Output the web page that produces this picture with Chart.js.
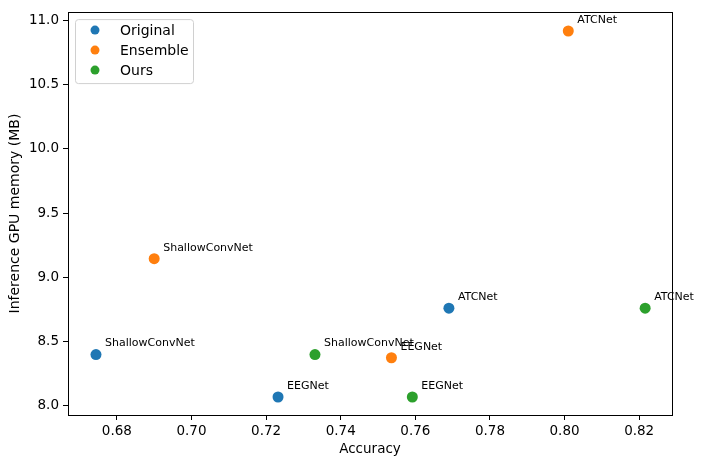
<!DOCTYPE html>
<html>
<head>
<meta charset="UTF-8">
<title>Accuracy vs GPU memory</title>
<script src="https://cdn.jsdelivr.net/npm/chart.js"></script>
<style>
  html, body { margin: 0; padding: 0; background: #fff; }
  #wrap { width: 701px; height: 467px; }
</style>
</head>
<body>
<div id="wrap"><canvas id="chart"></canvas></div>
<script>
// data
const models = ['ShallowConvNet', 'EEGNet', 'ATCNet'];
const originalAcc = [0.6744, 0.7232, 0.7690];
const originalMem = [8.40, 8.07, 8.76];
const ensembleAcc = [0.6900, 0.7536, 0.8010];
const ensembleMem = [9.145, 8.375, 10.915];
const oursAcc = [0.7331, 0.7592, 0.8216];
const oursMem = [8.40, 8.07, 8.76];
const xTicks = [0.68, 0.70, 0.72, 0.74, 0.76, 0.78, 0.80, 0.82];
const yTicks = [8.0, 8.5, 9.0, 9.5, 10.0, 10.5, 11.0];

const FONT = "'DejaVu Sans', sans-serif";

function pts(xs, ys) {
    return xs.map((x, i) => ({ x: x, y: ys[i], name: models[i] }));
}

// point labels next to every marker
const pointLabels = {
    id: 'pointLabels',
    afterDatasetsDraw(chart) {
        const ctx = chart.ctx;
        ctx.save();
        ctx.font = '11px ' + FONT;
        ctx.fillStyle = '#000';
        ctx.textBaseline = 'middle';
        chart.data.datasets.forEach((ds, di) => {
            chart.getDatasetMeta(di).data.forEach((el, i) => {
                ctx.fillText(ds.data[i].name, el.x + 9, el.y - 11);
            });
        });
        ctx.restore();
    }
};

// box around the plot + legend in upper left, like matplotlib
const frameAndLegend = {
    id: 'frameAndLegend',
    afterDraw(chart) {
        const ctx = chart.ctx;
        const a = chart.chartArea;
        ctx.save();
        ctx.strokeStyle = '#000';
        ctx.lineWidth = 1;
        ctx.strokeRect(Math.round(a.left) + 0.5, Math.round(a.top) + 0.5,
            Math.round(a.right - a.left), Math.round(a.bottom - a.top));

        // legend
        const bx = a.left + 7, by = a.top + 7, bw = 118, bh = 64;
        ctx.beginPath();
        ctx.roundRect(bx + 0.5, by + 0.5, bw, bh, 3);
        ctx.fillStyle = 'rgba(255,255,255,0.8)';
        ctx.fill();
        ctx.strokeStyle = '#d0d0d0';
        ctx.stroke();
        ctx.font = '14px ' + FONT;
        ctx.textBaseline = 'middle';
        chart.data.datasets.forEach((ds, i) => {
            const y = by + 11 + i * 20;
            ctx.beginPath();
            ctx.arc(bx + 20, y, 4.5, 0, Math.PI * 2);
            ctx.fillStyle = ds.backgroundColor;
            ctx.fill();
            ctx.fillStyle = '#000';
            ctx.fillText(ds.label, bx + 45, y + 1);
        });
        ctx.restore();
    }
};

new Chart(document.getElementById('chart'), {
    type: 'scatter',
    data: {
        datasets: [
            { label: 'Original', data: pts(originalAcc, originalMem), backgroundColor: '#1f77b4' },
            { label: 'Ensemble', data: pts(ensembleAcc, ensembleMem), backgroundColor: '#ff7f0e' },
            { label: 'Ours', data: pts(oursAcc, oursMem), backgroundColor: '#2ca02c' }
        ]
    },
    options: {
        responsive: true,
        maintainAspectRatio: false,
        animation: false,
        layout: { padding: { top: 11, right: 29, left: 0, bottom: 0 } },
        elements: { point: { radius: 5.5, borderWidth: 0, hoverRadius: 5.5 } },
        plugins: {
            legend: { display: false },
            tooltip: { enabled: false }
        },
        scales: {
            x: {
                type: 'linear',
                min: 0.6669,
                max: 0.8288,
                afterBuildTicks: s => { s.ticks = xTicks.map(v => ({ value: v })); },
                afterFit: s => { s.height = 52; },
                ticks: {
                    color: '#000',
                    font: { family: FONT, size: 13.5 },
                    padding: 3,
                    maxRotation: 0,
                    callback: v => v.toFixed(2)
                },
                grid: { drawOnChartArea: false, drawTicks: true, tickLength: 5, color: '#000' },
                border: { display: true, color: '#000' },
                title: {
                    display: true,
                    text: 'Accuracy',
                    color: '#000',
                    font: { family: FONT, size: 13.5 },
                    padding: { top: 0, bottom: 9 }
                }
            },
            y: {
                type: 'linear',
                min: 7.93,
                max: 11.062,
                afterBuildTicks: s => { s.ticks = yTicks.map(v => ({ value: v })); },
                afterFit: s => { s.width = 68; },
                ticks: {
                    color: '#000',
                    font: { family: FONT, size: 13.5 },
                    padding: 4,
                    callback: v => v.toFixed(1)
                },
                grid: { drawOnChartArea: false, drawTicks: true, tickLength: 5, color: '#000' },
                border: { display: true, color: '#000' },
                title: {
                    display: true,
                    text: 'Inference GPU memory (MB)',
                    color: '#000',
                    font: { family: FONT, size: 14 },
                    padding: { top: 7, bottom: 0 }
                }
            }
        }
    },
    plugins: [pointLabels, frameAndLegend]
});
</script>
</body>
</html>
